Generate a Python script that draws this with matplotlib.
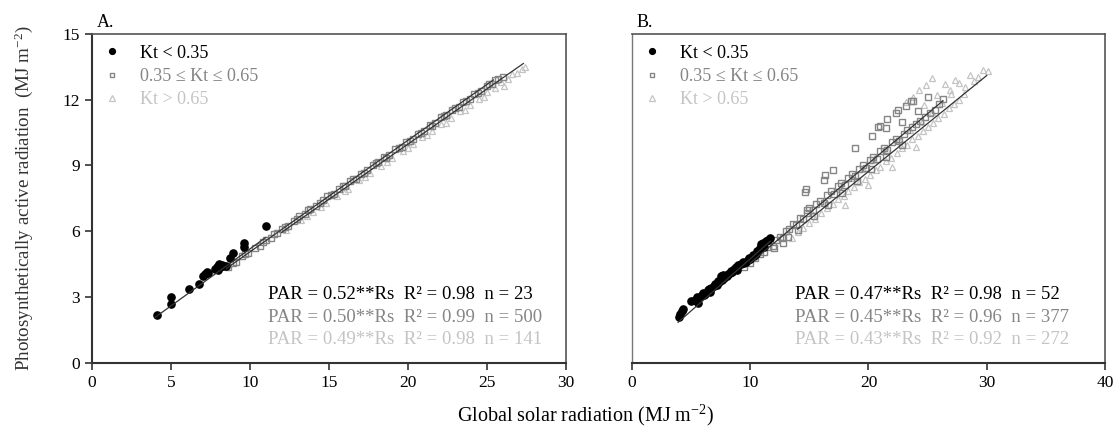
import matplotlib
matplotlib.use("Agg")
import matplotlib.pyplot as plt

plt.rcParams["font.family"] = ["Liberation Serif", "DejaVu Serif"]
plt.rcParams["mathtext.default"] = "regular"

# Panel A: values
a_low_x = [4.1, 5.0, 5.0, 6.15, 6.75, 7.05, 7.15, 7.25, 7.8, 7.9, 8.0, 8.1, 8.2, 8.3, 8.5,
           7.95, 8.75, 8.95, 9.6, 9.65, 11.0, 8.05, 7.35]
a_low_y = [2.19, 2.69, 3.02, 3.37, 3.58, 3.94, 4.05, 4.16, 4.27, 4.36, 4.42, 4.35, 4.47, 4.40, 4.42,
           4.25, 4.77, 5.0, 5.28, 5.46, 6.22, 4.50, 4.10]

a_mid_x = [8.6, 9.1, 9.5, 9.9, 10.3, 10.6, 11.0, 11.3, 11.7, 12.0, 12.4, 12.8, 13.1, 13.5, 13.8,
           14.2, 14.6, 14.9, 15.3, 15.6, 16.0, 16.3, 16.7, 17.0, 17.4, 17.8, 18.1, 18.5, 18.8,
           19.2, 19.6, 19.9, 20.3, 20.6, 21.0, 21.4, 21.7, 22.1, 22.4, 22.8, 23.2, 23.5, 23.9,
           24.2, 24.6, 25.0, 25.3, 25.7, 26.0,
           8.9, 9.7, 10.8, 11.5, 12.2, 13.0, 13.7, 14.4, 15.1, 15.9, 16.5, 17.2, 18.0, 18.6,
           19.4, 20.1, 20.8, 21.5, 22.3, 23.0, 23.7, 24.4, 25.1, 25.5]
a_mid_y = [4.38, 4.62, 4.85, 5.02, 5.25, 5.33, 5.58, 5.71, 5.93, 6.12, 6.25, 6.49, 6.68, 6.80, 7.02,
           7.15, 7.41, 7.60, 7.72, 7.93, 8.05, 8.28, 8.40, 8.63, 8.78, 9.02, 9.15, 9.39, 9.48,
           9.74, 9.86, 10.08, 10.21, 10.45, 10.58, 10.84, 10.93, 11.19, 11.28, 11.55, 11.66, 11.91, 12.02,
           12.27, 12.38, 12.64, 12.72, 12.95, 13.05,
           4.55, 4.98, 5.49, 5.86, 6.20, 6.58, 6.95, 7.30, 7.64, 8.07, 8.37, 8.66, 9.10, 9.36,
           9.80, 10.13, 10.48, 10.80, 11.25, 11.60, 11.95, 12.30, 12.70, 12.88]

a_high_x = [12.3, 13.2, 14.0, 14.8, 15.5, 16.2, 16.9, 17.6, 18.3, 19.0, 19.7, 20.3, 20.9, 21.5,
            22.1, 22.7, 23.3, 23.9, 24.5, 25.0, 25.5, 25.9, 26.3, 26.6, 26.9, 27.2, 27.4, 26.1,
            24.8, 23.6, 22.4, 21.2, 20.0, 18.7, 17.3, 16.0, 14.5, 13.6]
a_high_y = [6.05, 6.52, 6.90, 7.30, 7.62, 7.95, 8.33, 8.65, 8.98, 9.35, 9.68, 9.96, 10.28, 10.57,
            10.88, 11.15, 11.47, 11.76, 12.05, 12.33, 12.55, 12.80, 12.95, 13.15, 13.22, 13.42, 13.50, 12.62,
            12.10, 11.55, 10.95, 10.38, 9.80, 9.15, 8.48, 7.82, 7.10, 6.68]

# Panel B
b_low_x = [3.95, 4.05, 4.2, 4.3, 5.0, 5.3, 5.6, 5.8, 6.0, 6.2, 6.4, 6.5, 6.7, 6.9, 7.0, 7.2, 7.4,
           7.5, 7.6, 7.8, 8.0, 8.1, 8.3, 8.5, 8.6, 8.8, 9.0, 9.2, 9.4, 9.6, 9.8, 10.0, 9.9, 10.3,
           10.6, 10.8, 10.9, 11.1, 11.3, 11.5, 11.7, 11.2, 10.5, 7.7, 8.9, 6.6, 5.5, 9.5, 10.2,
           7.3, 8.4, 6.1]
b_low_y = [2.10, 2.25, 2.35, 2.45, 2.80, 2.85, 2.75, 3.05, 3.20, 3.15, 3.30, 3.38, 3.42, 3.50, 3.60,
           3.55, 3.70, 3.95, 3.80, 3.85, 3.95, 4.05, 4.10, 4.15, 4.30, 4.35, 4.45, 4.50, 4.60, 4.62,
           4.70, 4.72, 4.80, 4.85, 5.10, 5.25, 5.40, 5.45, 5.55, 5.62, 5.68, 5.30, 4.95, 4.0, 4.25,
           3.25, 3.0, 4.55, 4.90, 3.75, 4.20, 3.10]

b_mid_x = [9.5, 10.0, 10.4, 10.8, 11.2, 11.5, 11.9, 12.2, 12.5, 12.8, 13.0, 13.3, 13.6, 13.9, 14.2,
           14.5, 14.8, 15.0, 15.3, 15.6, 15.9, 16.2, 16.5, 16.8, 17.1, 17.4, 17.7, 18.0, 18.3, 18.6,
           18.9, 19.2, 19.5, 19.8, 20.1, 20.4, 20.7, 21.0, 21.3, 21.6, 22.0, 22.3, 22.6, 23.0, 23.3,
           23.7, 24.0, 24.4, 24.8, 25.2, 25.6, 26.0, 26.3,
           14.0, 15.4, 16.6, 17.8, 19.0, 20.2, 21.5, 22.8, 12.0, 13.2, 12.8, 14.8,
           14.6, 14.7, 16.2, 16.3, 17.0, 18.9, 20.3, 20.8, 21.5, 21.6, 21.0, 22.3, 22.5, 23.2,
           23.6, 23.8, 25.0, 24.2, 22.8]
b_mid_y = [4.35, 4.55, 4.80, 4.95, 5.05, 5.30, 5.35, 5.60, 5.75, 5.70, 6.00, 6.10, 6.35, 6.30, 6.60,
           6.55, 6.85, 7.05, 6.95, 7.25, 7.40, 7.30, 7.65, 7.85, 7.70, 8.05, 8.20, 8.10, 8.45, 8.60,
           8.50, 8.85, 9.00, 8.90, 9.25, 9.40, 9.30, 9.65, 9.80, 9.70, 10.05, 10.20, 10.10, 10.45, 10.60,
           10.75, 10.90, 11.05, 11.20, 11.40, 11.55, 11.80, 12.05,
           6.05, 6.70, 7.20, 7.75, 8.30, 8.85, 9.40, 9.95, 5.25, 5.75, 5.47, 6.98,
           7.80, 7.95, 8.35, 8.55, 8.80, 9.80, 10.35, 10.76, 10.70, 11.10, 10.80, 11.40, 11.54, 11.69,
           11.92, 11.95, 12.10, 11.50, 11.0]

b_high_x = [13.5, 14.0, 14.5, 15.0, 15.5, 16.0, 16.5, 17.0, 17.4, 17.9, 18.3, 18.8, 19.2, 19.7,
            20.1, 20.6, 21.0, 21.5, 21.9, 22.4, 22.8, 23.3, 23.7, 24.2, 24.6, 25.0, 25.5, 25.9,
            26.4, 26.8, 27.2, 27.7, 28.1,
            15.2, 16.3, 17.6, 18.6, 19.5, 20.5, 21.6, 22.6, 23.5, 24.5, 25.4, 26.2, 27.0,
            18.0, 20.0, 22.0, 24.0,
            26.9, 27.7, 28.6, 29.3, 29.7, 30.1, 28.2, 27.3, 25.4, 24.9, 24.3, 23.8, 23.2, 25.8,
            26.5, 24.7, 28.9]
b_high_y = [5.70, 5.95, 6.15, 6.40, 6.55, 6.85, 7.05, 7.25, 7.45, 7.60, 7.85, 8.00, 8.25, 8.40,
            8.55, 8.80, 8.95, 9.20, 9.35, 9.55, 9.80, 9.95, 10.20, 10.35, 10.55, 10.75, 10.95, 11.15,
            11.35, 11.60, 11.80, 12.00, 12.25,
            6.85, 7.35, 7.95, 8.45, 8.85, 9.25, 9.70, 10.15, 10.60, 11.00, 11.45, 11.85, 12.25,
            7.20, 8.10, 8.95, 9.85,
            12.45, 12.77, 13.13, 13.05, 13.36, 13.30, 12.60, 12.90, 13.0, 12.68, 12.45, 12.14, 11.90, 12.20,
            12.70, 11.75, 12.85]

# fitted line end points: (x0, x1, y0, y1)
a_fit = [(4.0, 11.0, 2.08, 5.72), (8.5, 25.4, 4.30, 12.90), (12.0, 27.3, 5.95, 13.65)]
b_fit = [(3.9, 11.7, 1.85, 5.55), (10.0, 26.3, 4.55, 11.95), (14.0, 30.0, 6.10, 13.10)]

legend_labels = ["Kt < 0.35", "0.35 \u2264 Kt \u2264 0.65", "Kt > 0.65"]
a_eqs = ["PAR = 0.52**Rs  R\u00b2 = 0.98  n = 23",
         "PAR = 0.50**Rs  R\u00b2 = 0.99  n = 500",
         "PAR = 0.49**Rs  R\u00b2 = 0.98  n = 141"]
b_eqs = ["PAR = 0.47**Rs  R\u00b2 = 0.98  n = 52",
         "PAR = 0.45**Rs  R\u00b2 = 0.96  n = 377",
         "PAR = 0.43**Rs  R\u00b2 = 0.92  n = 272"]

colors = ["black", "#858585", "#c4c4c4"]

fig = plt.figure(figsize=(11.18, 4.32), dpi=100)
ax_a = fig.add_axes([0.0823, 0.16, 0.424, 0.7616])
ax_b = fig.add_axes([0.5653, 0.16, 0.423, 0.7616])


def draw_panel(ax, low, mid, high, fits, eqs, xmax, xticks, letter, eq_x):
    h1, = ax.plot(low[0], low[1], "o", ms=5.2, color="black", mec="black", ls="none", zorder=3)
    h2, = ax.plot(mid[0], mid[1], "s", ms=4.2, mfc="none", mec=colors[1], mew=1.0, ls="none", zorder=2)
    h3, = ax.plot(high[0], high[1], "^", ms=4.8, mfc="none", mec=colors[2], mew=0.9, ls="none", zorder=1)
    for x0, x1, y0, y1 in fits:
        ax.plot([x0, x1], [y0, y1], color="#333333", lw=0.9, zorder=4)
    ax.set_xlim(0, xmax)
    ax.set_ylim(0, 15)
    ax.set_xticks(xticks)
    ax.set_yticks([0, 3, 6, 9, 12, 15])
    ax.tick_params(direction="out", length=5, width=1.2, labelsize=12.5, color="#333333")
    for side in ["left", "bottom"]:
        ax.spines[side].set_color("#333333")
        ax.spines[side].set_linewidth(1.5)
    for side in ["top", "right"]:
        ax.spines[side].set_color("#555555")
        ax.spines[side].set_linewidth(1.2)
    leg = ax.legend([h1, h2, h3], legend_labels, loc="upper left", frameon=False,
                    fontsize=13, markerscale=0.8, handlelength=1.0, handletextpad=1.05,
                    labelspacing=0.35, borderaxespad=0.2, bbox_to_anchor=(0.0, 1.0))
    for txt, c in zip(leg.get_texts(), colors):
        txt.set_color(c)
    for i, (eq, c) in enumerate(zip(eqs, colors)):
        ax.text(eq_x, 0.193 - i * 0.068, eq, transform=ax.transAxes, fontsize=13.5, color=c)
    ax.text(0.01, 1.01, letter, transform=ax.transAxes, fontsize=13, va="bottom")


draw_panel(ax_a, (a_low_x, a_low_y), (a_mid_x, a_mid_y), (a_high_x, a_high_y),
           a_fit, a_eqs, 30, [0, 5, 10, 15, 20, 25, 30], "A.", 0.371)
draw_panel(ax_b, (b_low_x, b_low_y), (b_mid_x, b_mid_y), (b_high_x, b_high_y),
           b_fit, b_eqs, 40, [0, 10, 20, 30, 40], "B.", 0.345)
ax_b.tick_params(axis="y", left=False, labelleft=False)
ax_b.spines["left"].set_color("#777777")
ax_b.spines["left"].set_linewidth(1.0)

ax_a.set_ylabel("Photosynthetically active radiation  (MJ m$^{-2}$)", fontsize=13.7, color="#333333",
                labelpad=20)
fig.text(0.524, 0.01, "Global solar radiation (MJ m$^{-2}$)", fontsize=14.5, ha="center", va="bottom")

fig.savefig("out.png", dpi=100)
